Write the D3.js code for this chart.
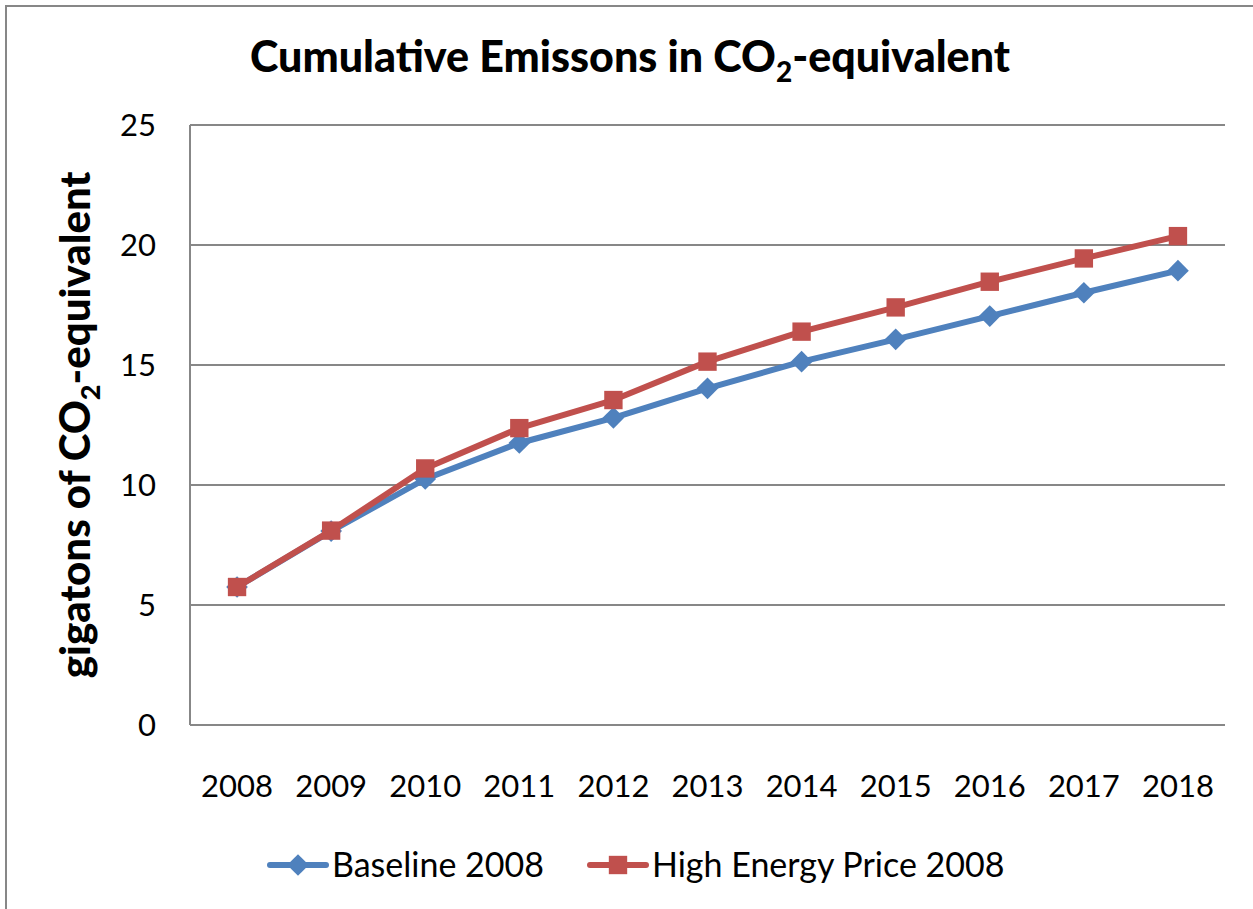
<!doctype html>
<html>
  <head>
    <title>Cumulative Emissons in CO2-equivalent</title>
    <style>
      body { margin: 0; background: #fff; }
      svg { display: block; font-family: Lato, "Open Sans", sans-serif; }
    </style>
  </head>
  <body>
    <svg id="chart" width="1253" height="909"></svg>

    <script src="https://d3js.org/d3.v7.min.js"></script>
    <script>
      // data
      const years = ['2008', '2009', '2010', '2011', '2012', '2013', '2014', '2015', '2016', '2017', '2018'];
      const baseline = [5.75, 8.08, 10.25, 11.75, 12.8, 14.03, 15.14, 16.07, 17.04, 18.01, 18.93];
      const highPrice = [5.75, 8.1, 10.69, 12.37, 13.54, 15.14, 16.39, 17.4, 18.47, 19.44, 20.37];
      const yTicks = [0, 5, 10, 15, 20, 25];
      const seriesNames = ['Baseline 2008', 'High Energy Price 2008'];

      const blue = '#4f81bd';
      const red = '#c0504d';
      const gridColor = '#878787';

      const svg = d3.select('#chart');
      const plot = { left: 190, right: 1225, top: 125, bottom: 725 };

      // outer chart frame (runs off the right / bottom of the picture)
      svg.append('rect')
        .attr('x', 6).attr('y', 6)
        .attr('width', 1300).attr('height', 1000)
        .attr('fill', 'none')
        .attr('stroke', gridColor)
        .attr('stroke-width', 2);

      const x = d3.scaleBand().domain(years).range([plot.left, plot.right]);
      const y = d3.scaleLinear().domain([0, 25]).range([plot.bottom, plot.top]);

      // gridlines
      svg.append('g')
        .selectAll('line')
        .data(yTicks)
        .join('line')
        .attr('x1', plot.left).attr('x2', plot.right)
        .attr('y1', (d) => y(d)).attr('y2', (d) => y(d))
        .attr('stroke', gridColor)
        .attr('stroke-width', 2);

      // left axis line
      svg.append('line')
        .attr('x1', plot.left).attr('x2', plot.left)
        .attr('y1', plot.top).attr('y2', plot.bottom)
        .attr('stroke', gridColor)
        .attr('stroke-width', 2);

      // y tick labels
      svg.append('g')
        .selectAll('text')
        .data(yTicks)
        .join('text')
        .attr('x', 156)
        .attr('y', (d) => y(d))
        .attr('dy', '0.36em')
        .attr('text-anchor', 'end')
        .attr('font-size', 31)
        .text((d) => d);

      // x tick labels
      svg.append('g')
        .selectAll('text')
        .data(years)
        .join('text')
        .attr('x', (d) => x(d) + x.bandwidth() / 2)
        .attr('y', 797)
        .attr('text-anchor', 'middle')
        .attr('font-size', 31)
        .text((d) => d);

      // title
      const title = svg.append('text')
        .attr('x', 630).attr('y', 72)
        .attr('text-anchor', 'middle')
        .attr('font-size', 43)
        .attr('font-weight', 900);
      title.append('tspan').text('Cumulative Emissons in CO');
      title.append('tspan').attr('font-size', 28).attr('dy', 10).text('2');
      title.append('tspan').attr('dy', -10).text('-equivalent');

      // y axis title
      const yTitle = svg.append('text')
        .attr('transform', 'translate(90,425) rotate(-90)')
        .attr('text-anchor', 'middle')
        .attr('font-size', 42)
        .attr('font-weight', 900);
      yTitle.append('tspan').text('gigatons of CO');
      yTitle.append('tspan').attr('font-size', 27).attr('dy', 10).text('2');
      yTitle.append('tspan').attr('dy', -10).text('-equivalent');

      const line = d3.line()
        .x((d, i) => x(years[i]) + x.bandwidth() / 2)
        .y((d) => y(d));

      const diamond = d3.symbol().type(d3.symbolDiamond2).size(300);
      const square = d3.symbol().type(d3.symbolSquare2).size(430);

      function drawSeries(values, color, shape) {
        svg.append('path')
          .datum(values)
          .attr('d', line)
          .attr('fill', 'none')
          .attr('stroke', color)
          .attr('stroke-width', 6)
          .attr('stroke-linejoin', 'round');
        svg.append('g')
          .selectAll('path')
          .data(values)
          .join('path')
          .attr('transform', (d, i) => `translate(${x(years[i]) + x.bandwidth() / 2},${y(d)})`)
          .attr('d', shape)
          .attr('fill', color);
      }

      drawSeries(baseline, blue, diamond);
      drawSeries(highPrice, red, square);

      // legend
      const legendItems = [
        { name: seriesNames[0], color: blue, shape: diamond, x0: 270 },
        { name: seriesNames[1], color: red, shape: square, x0: 590 },
      ];
      const lg = svg.append('g').selectAll('g').data(legendItems).join('g');
      lg.append('line')
        .attr('x1', (d) => d.x0).attr('x2', (d) => d.x0 + 56)
        .attr('y1', 865).attr('y2', 865)
        .attr('stroke', (d) => d.color)
        .attr('stroke-width', 6)
        .attr('stroke-linecap', 'round');
      lg.append('path')
        .attr('transform', (d) => `translate(${d.x0 + 28},865)`)
        .attr('d', (d) => d.shape())
        .attr('fill', (d) => d.color);
      lg.append('text')
        .attr('x', (d) => d.x0 + 62)
        .attr('y', 865)
        .attr('dy', '0.36em')
        .attr('font-size', 34)
        .text((d) => d.name);
    </script>
  </body>
</html>
